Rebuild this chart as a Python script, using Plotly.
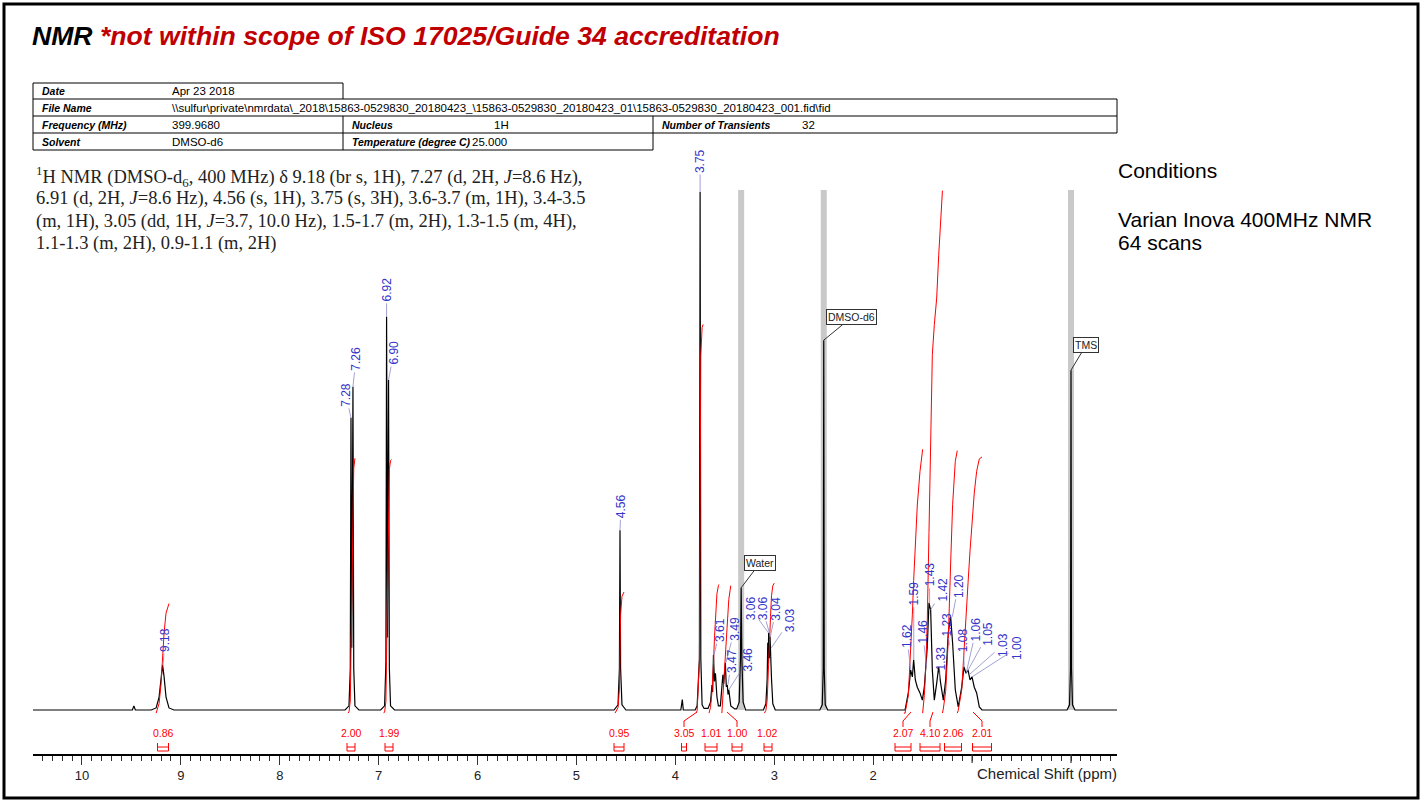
import numpy as np
import plotly.graph_objects as go

W, H = 1422, 802

# ---------------- data ----------------
spec_ppm = [10.50, 9.49, 9.475, 9.46,
            9.30, 9.25, 9.22, 9.20, 9.185, 9.17, 9.15, 9.12, 9.07,
            7.34, 7.30, 7.287, 7.28, 7.272, 7.26, 7.252, 7.24, 7.20,
            6.98, 6.94, 6.927, 6.92, 6.911, 6.90, 6.892, 6.88, 6.84,
            4.62, 4.58, 4.566, 4.56, 4.554, 4.54, 4.50,
            3.945, 3.93, 3.92,
            3.80, 3.78, 3.757, 3.75, 3.743, 3.73, 3.71,
            3.67, 3.645, 3.63, 3.623, 3.615, 3.605, 3.595, 3.58, 3.565,
            3.545, 3.52, 3.512, 3.495, 3.485, 3.475, 3.468, 3.46, 3.44, 3.40,
            3.38, 3.355, 3.342, 3.335, 3.328, 3.315, 3.29,
            3.11, 3.085, 3.072, 3.066, 3.062, 3.057, 3.05, 3.043, 3.038, 3.034, 3.028, 3.015, 2.99,
            2.54, 2.515, 2.505, 2.50, 2.495, 2.485, 2.46,
            1.678, 1.645, 1.621, 1.604, 1.591, 1.574, 1.554, 1.527, 1.503, 1.483, 1.466,
            1.453, 1.436, 1.419, 1.402, 1.382, 1.358, 1.338, 1.318, 1.291, 1.267, 1.241,
            1.217, 1.197, 1.170, 1.140, 1.105, 1.082, 1.062, 1.041, 1.021, 1.001, 0.978,
            0.954, 0.927, 0.900,
            0.04, 0.015, 0.005, 0.0, -0.005, -0.015, -0.04, -0.47]
spec_int = [0.0, 0.0, 0.8, 0.0,
            0.0, 0.4, 2.5, 6.5, 8.7, 6.5, 2.5, 0.4, 0.0,
            0.0, 0.8, 8.0, 56.4, 12.0, 62.4, 8.0, 0.8, 0.0,
            0.0, 0.8, 9.0, 75.9, 14.0, 63.7, 8.0, 0.8, 0.0,
            0.0, 1.0, 8.0, 34.7, 8.0, 1.0, 0.0,
            0.0, 2.0, 0.0,
            0.0, 0.8, 10.0, 100.0, 10.0, 1.0, 0.3,
            0.3, 1.5, 4.8, 3.5, 10.6, 5.5, 7.1, 2.5, 0.8,
            0.8, 6.8, 5.0, 9.1, 4.5, 4.8, 3.0, 3.9, 0.8, 0.2,
            0.2, 1.5, 10.0, 23.6, 10.0, 1.5, 0.0,
            0.0, 1.2, 6.0, 13.0, 9.0, 14.9, 10.0, 14.2, 9.0, 12.0, 6.0, 1.2, 0.0,
            0.0, 1.0, 8.0, 71.4, 8.0, 1.0, 0.0,
            0.0, 3.3, 7.7, 6.4, 9.7, 5.8, 4.4, 3.3, 1.9, 4.4, 8.3,
            12.2, 20.7, 19.3, 7.7, 1.9, 5.2, 8.3, 5.2, 1.9, 5.8, 14.9,
            18.0, 12.9, 3.9, 0.6, 4.4, 8.3, 7.1, 7.7, 5.8, 6.4, 4.4,
            3.3, 0.6, 0.0,
            0.0, 1.0, 8.0, 65.6, 8.0, 1.0, 0.0, 0.0]

peak_label_text = ["9.18", "7.28", "7.26", "6.92", "6.90", "4.56", "3.75", "3.61",
                   "3.49", "3.47", "3.46", "3.06", "3.06", "3.04", "3.03",
                   "1.62", "1.59", "1.46", "1.43", "1.42", "1.33", "1.23", "1.20",
                   "1.08", "1.06", "1.05", "1.03", "1.00"]
peak_label_ppm = [9.18, 7.28, 7.26, 6.92, 6.90, 4.56, 3.75, 3.61,
                  3.49, 3.47, 3.46, 3.06, 3.05, 3.04, 3.03,
                  1.62, 1.59, 1.46, 1.43, 1.42, 1.33, 1.23, 1.20,
                  1.08, 1.06, 1.05, 1.03, 1.00]
peak_label_top = [8.7, 56.4, 62.4, 75.9, 63.7, 34.7, 100.0, 10.6,
                  9.1, 4.8, 3.9, 14.9, 14.9, 14.2, 12.0,
                  7.7, 9.7, 8.3, 20.7, 19.3, 5.8, 12.5, 18.0,
                  8.3, 7.1, 7.4, 6.8, 6.4]

integral_start = [9.25, 7.31, 6.95, 4.61, 3.79, 3.66, 3.53, 3.10, 1.69, 1.50, 1.30, 1.15]
integral_end = [9.12, 7.24, 6.87, 4.52, 3.72, 3.56, 3.44, 3.00, 1.50, 1.30, 1.15, 0.90]
integral_value = [0.86, 2.00, 1.99, 0.95, 3.05, 1.01, 1.00, 1.02, 2.07, 4.10, 2.06, 2.01]

ref_names = ["DMSO-d6", "Water", "TMS"]
ref_ppm = [2.50, 3.335, 0.00]
ref_top = [71.4, 23.6, 65.6]

x_tick_vals = [2, 3, 4, 5, 6, 7, 8, 9, 10]
x_tick_text = ["2", "3", "4", "5", "6", "7", "8", "9", "10"]
x_unlabeled_major = [0, 1]

# ---------------- layout helpers ----------------
def px(x):
    return x / W

def py(y):
    return 1 - y / H

X_RANGE = [10.495, -0.465]
Y_RANGE = [-8.494, 108.108]
X_DOM = [px(33), px(1117)]
Y_DOM = [py(754), py(150)]
H_UNIT = 24.6  # integral height per proton (data units)

RED = "#ff0000"
BLUE = "#3434c8"
CONN = "#8a8ac8"

fig = go.Figure()
shapes = []
ann = []

# gray reference bars
for p in ref_ppm:
    shapes.append(dict(type="line", xref="x", yref="y", x0=p, x1=p, y0=0, y1=100.4,
                       line=dict(color="#c9c9c9", width=6), layer="below"))

# spectrum
fig.add_trace(go.Scatter(x=spec_ppm, y=spec_int, mode="lines",
                         line=dict(color="black", width=1.2), hoverinfo="skip"))

# integrals (cumulative area of the drawn spectrum inside each region)
sp = np.array(spec_ppm)[::-1]
si = np.array(spec_int)[::-1]
for a, b, v in zip(integral_start, integral_end, integral_value):
    inside = (sp < a) & (sp > b)
    xs = np.concatenate([[b], sp[inside], [a]])
    ys = np.interp(xs, sp, si)
    xs = xs[::-1]
    ys = ys[::-1]
    cum = np.concatenate([[0], np.cumsum(0.5 * (ys[1:] + ys[:-1]) * np.abs(np.diff(xs)))])
    cum = cum / cum[-1] * v * H_UNIT - 0.6
    fig.add_trace(go.Scatter(x=xs, y=cum, mode="lines",
                             line=dict(color=RED, width=1), hoverinfo="skip"))

# integral labels + brackets
lab_px = [163, 351, 389, 619, 684, 711, 737, 768, 903, 930, 953, 982]
half_w = [5.5, 4, 4, 5, 2.5, 6, 5, 4, 8, 10, 8.5, 9.5]
conn_to = [None, None, None, None, 697, None, 727, None, 911, 933, None, 973]
for v, cx, hw, ct in zip(integral_value, lab_px, half_w, conn_to):
    ann.append(dict(x=px(cx), y=py(733), xref="paper", yref="paper", text=f"{v:.2f}",
                    showarrow=False, font=dict(family="Arial", size=10.5, color=RED),
                    xanchor="center", yanchor="middle"))
    for x0, y0, x1, y1 in [(cx - hw, 743, cx - hw, 751), (cx + hw, 743, cx + hw, 751),
                           (cx - hw, 747, cx + hw, 747), (cx - hw, 751, cx + hw, 751)]:
        shapes.append(dict(type="line", xref="paper", yref="paper", x0=px(x0), y0=py(y0),
                           x1=px(x1), y1=py(y1), line=dict(color=RED, width=1)))
    if ct is not None:
        shapes.append(dict(type="path", xref="paper", yref="paper",
                           path=f"M {px(cx)} {py(727)} L {px(cx)} {py(721)} L {px(ct)} {py(712)}",
                           line=dict(color=RED, width=1)))

# peak labels
lab_off = [(2, -25), (-5, -23), (3, -28), (0, -27), (5, -27), (1, -24), (0, -31), (6, -25),
           (9, -34), (4, -24), (19, -30), (-18, -25), (-7, -25), (6, -28), (19, -28),
           (-4, -34), (0, -66), (-4, -35), (0, -28), (12, -20), (1, -22), (-2, -21), (6, -31),
           (-1, -27), (10, -44), (21, -38), (34, -30), (45, -29)]
for t, p, top, (ax, ay) in zip(peak_label_text, peak_label_ppm, peak_label_top, lab_off):
    ann.append(dict(x=p, y=top, xref="x", yref="y", text=t, textangle=-90,
                    font=dict(family="Arial", size=12, color=BLUE),
                    showarrow=True, arrowhead=0, arrowwidth=0.8, arrowcolor=CONN,
                    ax=ax, ay=ay, standoff=0, startstandoff=0))

# reference callouts
ref_off = [(28, -23), (19, -25), (15, -25)]
for n, p, top, (ax, ay) in zip(ref_names, ref_ppm, ref_top, ref_off):
    ann.append(dict(x=p, y=top, xref="x", yref="y", text=n,
                    font=dict(family="Arial", size=10.5, color="#222"),
                    showarrow=True, arrowhead=0, arrowwidth=1, arrowcolor="#333",
                    ax=ax, ay=ay, bgcolor="white", bordercolor="#333", borderwidth=1,
                    borderpad=1))

# unlabeled major ticks at 1 and 0
for p in x_unlabeled_major:
    shapes.append(dict(type="line", xref="x", yref="paper", x0=p, x1=p,
                       y0=py(754), y1=py(763), line=dict(color="#333", width=1.2)))

# axis label
ann.append(dict(x=px(1047), y=py(773), xref="paper", yref="paper",
                xanchor="center", yanchor="middle",
                text="Chemical Shift (ppm)", showarrow=False,
                font=dict(family="Arial", size=15, color="#222")))

# title
ann.append(dict(x=px(30), y=py(36), xref="paper", yref="paper", xanchor="left",
                yanchor="middle",
                text="<b><i>NMR <span style='color:#c00000'>*not within scope of ISO 17025/Guide 34 accreditation</span></i></b>",
                showarrow=False, font=dict(family="Arial", size=26.6, color="black")))

# header table
tl = dict(color="black", width=1)
for x0, y0, x1, y1 in [(33, 83, 343, 83), (33, 83, 33, 150), (343, 83, 343, 99),
                       (33, 99, 1117, 99), (33, 116, 1117, 116), (1117, 99, 1117, 133),
                       (33, 133, 1117, 133), (33, 150, 653, 150), (343, 116, 343, 150),
                       (653, 116, 653, 150)]:
    shapes.append(dict(type="line", xref="paper", yref="paper", x0=px(x0), y0=py(y0),
                       x1=px(x1), y1=py(y1), line=tl))
table_labels = [
    (40, 91, "Date"), (40, 108, "File Name"), (40, 125, "Frequency (MHz)"),
    (350, 125, "Nucleus"), (660, 125, "Number of Transients"), (40, 142, "Solvent"),
    (350, 142, "Temperature (degree C)"),
]
table_values = [
    (170, 91, "Apr 23 2018"),
    (170, 108, "\\\\sulfur\\private\\nmrdata\\_2018\\15863-0529830_20180423_\\15863-0529830_20180423_01\\15863-0529830_20180423_001.fid\\fid"),
    (170, 125, "399.9680"), (492, 125, "1H"), (800, 125, "32"),
    (170, 142, "DMSO-d6"), (470, 142, "25.000"),
]
for x, y, t in table_labels:
    ann.append(dict(x=px(x), y=py(y), xref="paper", yref="paper", xanchor="left",
                    yanchor="middle", text=f"<b><i>{t}</i></b>", showarrow=False,
                    font=dict(family="Arial", size=10.5, color="black")))
for x, y, t in table_values:
    ann.append(dict(x=px(x), y=py(y), xref="paper", yref="paper", xanchor="left",
                    yanchor="middle", text=t, showarrow=False,
                    font=dict(family="Arial", size=11.5, color="black")))

# description
desc = [
    "<sup>1</sup>H NMR (DMSO-d<sub>6</sub>, 400 MHz) δ 9.18 (br s, 1H), 7.27 (d, 2H, <i>J</i>=8.6 Hz),",
    "6.91 (d, 2H, <i>J</i>=8.6 Hz), 4.56 (s, 1H), 3.75 (s, 3H), 3.6-3.7 (m, 1H), 3.4-3.5",
    "(m, 1H), 3.05 (dd, 1H, <i>J</i>=3.7, 10.0 Hz), 1.5-1.7 (m, 2H), 1.3-1.5 (m, 4H),",
    "1.1-1.3 (m, 2H), 0.9-1.1 (m, 2H)",
]
for i, t in enumerate(desc):
    ann.append(dict(x=px(34), y=py(176 + 22.6 * i), xref="paper", yref="paper",
                    xanchor="left", yanchor="middle", text=t, showarrow=False,
                    font=dict(family="Liberation Serif", size=18.5, color="#222")))

# conditions
for y, t in [(170, "Conditions"), (219, "Varian Inova 400MHz NMR"), (243, "64 scans")]:
    ann.append(dict(x=px(1116), y=py(y), xref="paper", yref="paper", xanchor="left",
                    yanchor="middle", text=t, showarrow=False,
                    font=dict(family="Arial", size=21, color="black")))

# outer frame
shapes.append(dict(type="rect", xref="paper", yref="paper", x0=px(4), y0=py(4),
                   x1=px(1418), y1=py(798), line=dict(color="black", width=3)))

fig.update_layout(
    width=W, height=H, autosize=False, showlegend=False,
    margin=dict(l=0, r=0, t=0, b=0),
    paper_bgcolor="white", plot_bgcolor="rgba(0,0,0,0)",
    xaxis=dict(domain=X_DOM, range=X_RANGE, tickvals=x_tick_vals, ticktext=x_tick_text,
               ticks="outside", ticklen=9, tickwidth=1.2, tickcolor="#333",
               showline=True, linecolor="black", linewidth=1.5, showgrid=False,
               zeroline=False, tickfont=dict(family="Arial", size=13, color="#222"),
               minor=dict(tick0=0, dtick=0.1, ticks="outside", ticklen=5, tickwidth=1,
                          tickcolor="#333", showgrid=False)),
    yaxis=dict(domain=Y_DOM, range=Y_RANGE, visible=False, showgrid=False, zeroline=False),
    shapes=shapes, annotations=ann,
)

fig.write_html("out.html", config={"displayModeBar": False},
               post_script="document.body.style.margin='0';document.body.style.overflow='hidden';")
